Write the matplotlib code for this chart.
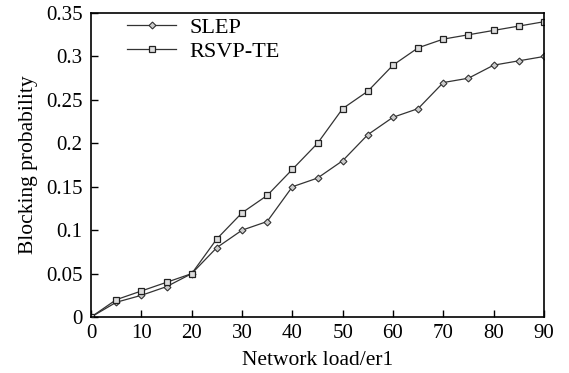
import matplotlib
matplotlib.use("Agg")
import matplotlib.pyplot as plt

load = [0, 5, 10, 15, 20, 25, 30, 35, 40, 45, 50, 55, 60, 65, 70, 75, 80, 85, 90]
slep = [0, 0.017, 0.025, 0.035, 0.05, 0.08, 0.10, 0.11, 0.15, 0.16, 0.18, 0.21, 0.23, 0.24, 0.27, 0.275, 0.29, 0.295, 0.30]
rsvp = [0, 0.02, 0.03, 0.04, 0.05, 0.09, 0.12, 0.14, 0.17, 0.20, 0.24, 0.26, 0.29, 0.31, 0.32, 0.325, 0.33, 0.335, 0.34]
xticks = [0, 10, 20, 30, 40, 50, 60, 70, 80, 90]
yticks = [0, 0.05, 0.1, 0.15, 0.2, 0.25, 0.3, 0.35]
yticklabels = ["0", "0.05", "0.1", "0.15", "0.2", "0.25", "0.3", "0.35"]

plt.rcParams['font.family'] = ['Liberation Serif', 'DejaVu Serif']

fig = plt.figure(figsize=(5.69, 3.73), dpi=100)
ax = fig.add_axes([0.160, 0.150, 0.796, 0.815])

ax.plot(load, slep, color='#333333', lw=0.9, marker='D', markersize=3.5,
        markerfacecolor='#cccccc', markeredgecolor='#333333', markeredgewidth=0.8, label='SLEP')
ax.plot(load, rsvp, color='#333333', lw=0.9, marker='s', markersize=5,
        markerfacecolor='#dddddd', markeredgecolor='#222222', markeredgewidth=0.9, label='RSVP-TE')

ax.set_xlim(0, 90)
ax.set_ylim(0, 0.35)
ax.set_xticks(xticks)
ax.set_yticks(yticks)
ax.set_yticklabels(yticklabels)
ax.tick_params(direction='in', length=5, width=1, labelsize=15, top=False, right=False)
ax.tick_params(axis='y', pad=6)
ax.tick_params(axis='x', pad=5)
for s in ax.spines.values():
    s.set_linewidth(1.2)
    s.set_color('black')

ax.set_xlabel('Network load/er1', fontsize=15.5, labelpad=6)
ax.set_ylabel('Blocking probability', fontsize=15.5, labelpad=6)

ax.legend(loc='upper left', frameon=False, fontsize=16, handlelength=2.2,
          borderaxespad=0.0, bbox_to_anchor=(0.06, 1.015), handletextpad=0.6, labelspacing=0.15)

fig.savefig('out.png', dpi=100)
